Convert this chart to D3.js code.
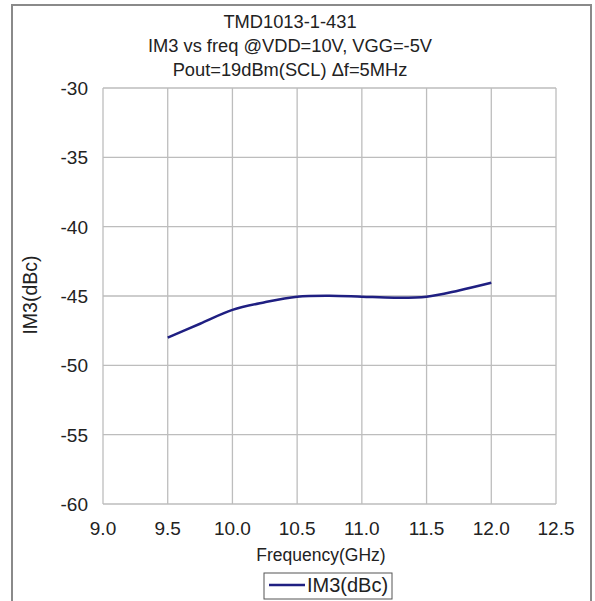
<!DOCTYPE html>
<html>
<head>
<meta charset="utf-8">
<script src="https://cdn.jsdelivr.net/npm/d3@7"></script>
<style>
  body { margin: 0; background: #fff; }
  text { font-family: "Liberation Sans", Arial, sans-serif; fill: #222; }
</style>
</head>
<body>
<div id="chart"></div>
<script>
// values
const freq = [9.5, 9.75, 10.0, 10.25, 10.5, 10.75, 11.0, 11.25, 11.5, 11.75, 12.0];
const im3 = [-48.0, -47.0, -46.0, -45.45, -45.05, -44.98, -45.05, -45.12, -45.05, -44.6, -44.05];
const xTicks = [9.0, 9.5, 10.0, 10.5, 11.0, 11.5, 12.0, 12.5];
const yTicks = [-30, -35, -40, -45, -50, -55, -60];
const titleLines = ["TMD1013-1-431", "IM3 vs freq @VDD=10V, VGG=-5V", "Pout=19dBm(SCL) \u0394f=5MHz"];

const width = 595, height = 601;
const plot = { left: 103, right: 556, top: 88, bottom: 504 };

const svg = d3.select("#chart").append("svg")
    .attr("width", width)
    .attr("height", height);

// outer chart frame
svg.append("rect")
    .attr("x", 12).attr("y", 5)
    .attr("width", 579).attr("height", 610)
    .attr("fill", "none")
    .attr("stroke", "#8a8a8a")
    .attr("stroke-width", 2);

const x = d3.scaleLinear().domain([9.0, 12.5]).range([plot.left, plot.right]);
const y = d3.scaleLinear().domain([-60, -30]).range([plot.bottom, plot.top]);

// gridlines
svg.append("g")
    .selectAll("line")
    .data(xTicks)
    .enter().append("line")
    .attr("x1", d => x(d)).attr("x2", d => x(d))
    .attr("y1", plot.top).attr("y2", plot.bottom)
    .attr("stroke", "#bdbdbd").attr("stroke-width", 1.3);

svg.append("g")
    .selectAll("line")
    .data(yTicks)
    .enter().append("line")
    .attr("x1", plot.left).attr("x2", plot.right)
    .attr("y1", d => y(d)).attr("y2", d => y(d))
    .attr("stroke", "#bdbdbd").attr("stroke-width", 1.3);

// tick labels
svg.append("g")
    .selectAll("text")
    .data(yTicks)
    .enter().append("text")
    .attr("x", plot.left - 15)
    .attr("y", d => y(d) + 7)
    .attr("text-anchor", "end")
    .style("font-size", "19px")
    .text(d => d);

svg.append("g")
    .selectAll("text")
    .data(xTicks)
    .enter().append("text")
    .attr("x", d => x(d))
    .attr("y", plot.bottom + 31)
    .attr("text-anchor", "middle")
    .style("font-size", "19px")
    .text(d => d.toFixed(1));

// titles
svg.append("g")
    .selectAll("text")
    .data(titleLines)
    .enter().append("text")
    .attr("x", 290)
    .attr("y", (d, i) => 28 + i * 24)
    .attr("text-anchor", "middle")
    .style("font-size", "18.3px")
    .text(d => d);

svg.append("text")
    .attr("x", 321).attr("y", 561)
    .attr("text-anchor", "middle")
    .style("font-size", "17.5px")
    .text("Frequency(GHz)");

svg.append("text")
    .attr("transform", "translate(37,295) rotate(-90)")
    .attr("text-anchor", "middle")
    .style("font-size", "19.5px")
    .text("IM3(dBc)");

// data line
const line = d3.line()
    .x((d, i) => x(freq[i]))
    .y(d => y(d))
    .curve(d3.curveCatmullRom.alpha(0.5));

svg.append("path")
    .datum(im3)
    .attr("d", line)
    .attr("fill", "none")
    .attr("stroke", "#1f1f82")
    .attr("stroke-width", 2.5);

// legend
const lg = svg.append("g");
lg.append("rect")
    .attr("x", 264).attr("y", 573)
    .attr("width", 128).attr("height", 26)
    .attr("fill", "#fff")
    .attr("stroke", "#555").attr("stroke-width", 1);
lg.append("line")
    .attr("x1", 269).attr("x2", 305)
    .attr("y1", 585).attr("y2", 585)
    .attr("stroke", "#1f1f82").attr("stroke-width", 2.5);
lg.append("text")
    .attr("x", 307).attr("y", 592)
    .style("font-size", "20px")
    .text("IM3(dBc)");
</script>
</body>
</html>
